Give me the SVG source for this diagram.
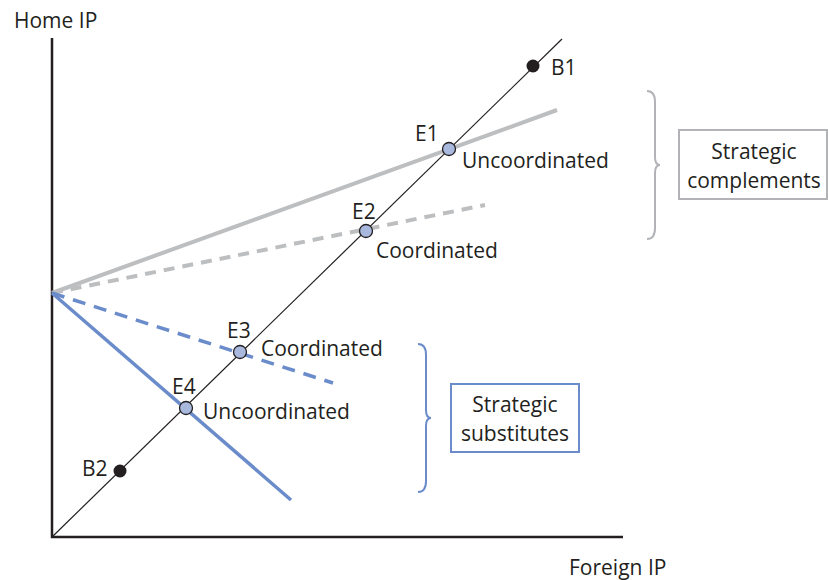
<svg xmlns="http://www.w3.org/2000/svg" width="828" height="580" viewBox="0 0 828 580">
<style>
text{font-family:"Open Sans","Liberation Sans",sans-serif;font-size:21px;fill:#231f20}
.axis{stroke:#231f20;stroke-width:2.5;fill:none}
.diag{stroke:#231f20;stroke-width:1.2;fill:none}
.gray{stroke:#bcbec0;stroke-width:4;fill:none}
.blue{stroke:#6b8cca;stroke-width:3.5;fill:none}
.dg{stroke-dasharray:11 8}
.db{stroke-dasharray:13 9}
.eq{fill:#a9b9de;stroke:#231f20;stroke-width:1.3}
.bp{fill:#231f20}
.brace{fill:none;stroke-width:2}
.mid{text-anchor:middle}
</style>
<rect width="828" height="580" fill="#fff"/>
<g id="axes">
<line class="axis" x1="52" y1="38" x2="52" y2="538"/>
<line class="axis" x1="51" y1="537" x2="623" y2="537"/>
<text x="14" y="28">Home IP</text>
<text x="569" y="575">Foreign IP</text>
</g>
<g id="connectors">
<line class="diag" x1="52" y1="537" x2="562" y2="39"/>
<line class="gray" x1="52" y1="293" x2="557" y2="110"/>
<line class="gray dg" x1="52" y1="293" x2="485" y2="205"/>
<line class="blue db" x1="52" y1="293" x2="333" y2="383"/>
<line class="blue" x1="52" y1="293" x2="291" y2="500"/>
</g>
<g id="B1"><circle class="bp" cx="533" cy="66" r="6.5"/><text x="551" y="75">B1</text></g>
<g id="B2"><circle class="bp" cx="120" cy="471" r="6.5"/><text x="82" y="476">B2</text></g>
<g id="E1"><circle class="eq" cx="449" cy="149" r="6.5"/><text x="415" y="141">E1</text><text x="462" y="168">Uncoordinated</text></g>
<g id="E2"><circle class="eq" cx="366" cy="231" r="6.5"/><text x="352" y="219">E2</text><text x="376" y="258">Coordinated</text></g>
<g id="E3"><circle class="eq" cx="240" cy="352" r="6.5"/><text x="227" y="338">E3</text><text x="261" y="356">Coordinated</text></g>
<g id="E4"><circle class="eq" cx="186" cy="408" r="6.5"/><text x="172" y="394">E4</text><text x="203" y="419">Uncoordinated</text></g>
<g id="complements">
<path class="brace" stroke="#b1b3b6" d="M647,91 C653,91 655,95 655,102 L655,157 C655,162 657,165 660,165 C657,165 655,168 655,173 L655,228 C655,235 653,239 647,239"/>
<rect x="679" y="130" width="148" height="69" fill="#fff" stroke="#b1b3b6" stroke-width="2"/>
<text class="mid" x="754" y="159">Strategic</text>
<text class="mid" x="754" y="188">complements</text>
</g>
<g id="substitutes">
<path class="brace" stroke="#6b8cca" d="M418,344 C424,344 426,348 426,355 L426,410 C426,415 428,418 431,418 C428,418 426,421 426,426 L426,481 C426,488 424,492 418,492"/>
<rect x="451" y="384" width="128" height="68" fill="#fff" stroke="#6b8cca" stroke-width="2"/>
<text class="mid" x="515" y="412">Strategic</text>
<text class="mid" x="515" y="441">substitutes</text>
</g>
</svg>
